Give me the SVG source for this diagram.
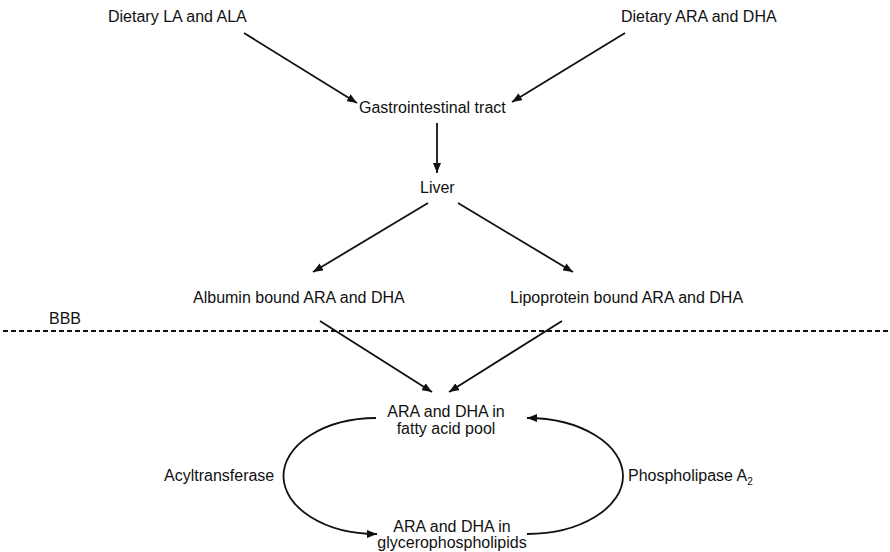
<svg xmlns="http://www.w3.org/2000/svg" width="890" height="552" viewBox="0 0 890 552">
  <defs>
    <marker id="arrow" viewBox="0 0 10 8" refX="10" refY="4" markerWidth="10" markerHeight="8" markerUnits="userSpaceOnUse" orient="auto">
      <path d="M0,0 L10,4 L0,8 Z" fill="#111"/>
    </marker>
    <style>
      text { font-family: "Liberation Sans", Arial, sans-serif; font-size: 16px; fill: #111; }
      .mid { text-anchor: middle; }
      .edge { fill: none; stroke: #111; stroke-width: 1.8; marker-end: url(#arrow); }
      .bbb { fill: none; stroke: #111; stroke-width: 1.8; stroke-dasharray: 5 3; }
    </style>
  </defs>
  <rect width="890" height="552" fill="#fff"/>

  <g id="dietary-la-ala"><text x="108" y="22">Dietary LA and ALA</text></g>
  <g id="dietary-ara-dha"><text x="621" y="22">Dietary ARA and DHA</text></g>
  <g id="gi-tract"><text x="359" y="113">Gastrointestinal tract</text></g>
  <g id="liver"><text x="420" y="193">Liver</text></g>
  <g id="albumin"><text x="193" y="303">Albumin bound ARA and DHA</text></g>
  <g id="lipoprotein"><text x="510" y="303">Lipoprotein bound ARA and DHA</text></g>
  <g id="bbb">
    <text x="49" y="324">BBB</text>
    <line class="bbb" x1="3" y1="331" x2="890" y2="331"/>
  </g>
  <g id="fa-pool">
    <text class="mid" x="446" y="417">ARA and DHA in</text>
    <text class="mid" x="446" y="434">fatty acid pool</text>
  </g>
  <g id="gpl">
    <text class="mid" x="452" y="532">ARA and DHA in</text>
    <text class="mid" x="452" y="548">glycerophospholipids</text>
  </g>
  <g id="acyltransferase"><text x="164" y="481">Acyltransferase</text></g>
  <g id="phospholipase"><text x="628" y="481">Phospholipase A<tspan font-size="10" dy="4">2</tspan></text></g>

  <g id="connectors">
    <line class="edge" x1="244" y1="33" x2="357" y2="103"/>
    <line class="edge" x1="625" y1="33" x2="512" y2="102"/>
    <line class="edge" x1="437" y1="123" x2="437" y2="173"/>
    <line class="edge" x1="428" y1="203" x2="313" y2="272"/>
    <line class="edge" x1="458" y1="203" x2="573" y2="272"/>
    <line class="edge" x1="320" y1="321" x2="432" y2="392"/>
    <line class="edge" x1="562" y1="321" x2="449" y2="392"/>
    <path class="edge" d="M376,418 A93,58 0 0,0 377,534"/>
    <path class="edge" d="M527,534 A96,58 0 0,0 527,418"/>
  </g>
</svg>
